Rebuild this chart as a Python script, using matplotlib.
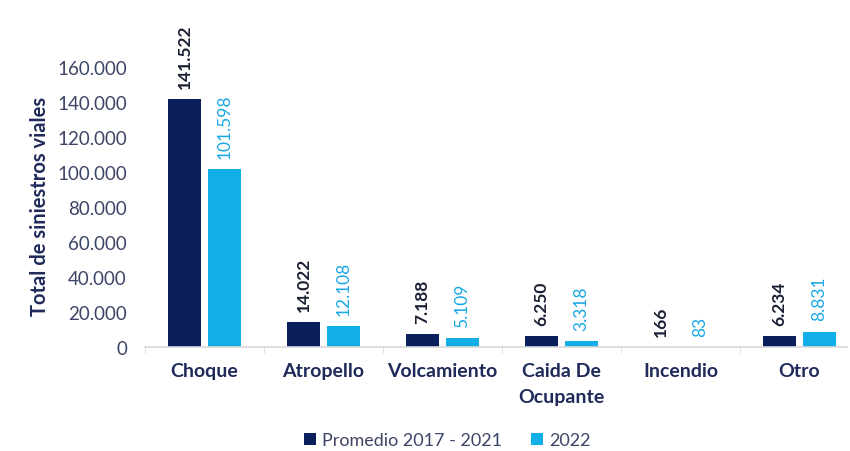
import numpy as np
import matplotlib.pyplot as plt
from matplotlib.ticker import FuncFormatter, FixedLocator

categories = ["Choque", "Atropello", "Volcamiento", "Caida De\nOcupante", "Incendio", "Otro"]
promedio = [141522, 14022, 7188, 6250, 166, 6234]
valores_2022 = [101598, 12108, 5109, 3318, 83, 8831]
series_names = ["Promedio 2017 - 2021", "2022"]

dark = "#0b1f5c"
light = "#12aee8"
navy_txt = "#1f2a5a"
tick_txt = "#3d4466"

plt.rcParams['font.family'] = ['Lato', 'DejaVu Sans']

def miles(v, pos=None):
    return f"{int(v):,}".replace(",", ".")

fig = plt.figure(figsize=(8.5, 4.52), dpi=100)
ax = fig.add_axes([0.1706, 0.2301, 0.826, 0.6195])

x = np.arange(len(categories))
w = 0.27
off = 0.168
b1 = ax.bar(x - off, promedio, w, color=dark, label=series_names[0])
b2 = ax.bar(x + off, valores_2022, w, color=light, label=series_names[1])

for xi, v in zip(x - off, promedio):
    ax.annotate(miles(v), (xi, v), xytext=(0, 8), textcoords="offset points",
                rotation=90, ha="center", va="bottom", fontsize=12.5,
                fontweight="bold", color="#1a1f33", annotation_clip=False)
for xi, v in zip(x + off, valores_2022):
    ax.annotate(miles(v), (xi, v), xytext=(0, 8), textcoords="offset points",
                rotation=90, ha="center", va="bottom", fontsize=12.5,
                color="#18a8e6", annotation_clip=False)

ax.set_ylim(0, 160000)
ax.set_xlim(-0.5, 5.4)
ax.yaxis.set_major_locator(FixedLocator(np.arange(0, 160001, 20000)))
ax.yaxis.set_major_formatter(FuncFormatter(miles))
ax.tick_params(axis="y", length=0, labelsize=13.5, labelcolor=tick_txt, pad=13)

ax.set_xticks(x)
ax.set_xticklabels(categories, fontsize=14, fontweight="bold", color=navy_txt,
                   linespacing=1.6)
ax.tick_params(axis="x", length=0, pad=11)
ax.set_xticks(np.arange(-0.5, 5.5, 1), minor=True)
ax.tick_params(axis="x", which="minor", length=4, color="#d9d9d9")

for s in ["top", "right", "left"]:
    ax.spines[s].set_visible(False)
ax.spines["bottom"].set_color("#d9d9d9")
ax.spines["bottom"].set_linewidth(1.2)

fig.text(0.047, 0.544, "Total de siniestros viales", rotation=90, ha="center",
         va="center", fontsize=14.5, fontweight="bold", color=navy_txt)

fig.legend(handles=[b1, b2], loc="center", bbox_to_anchor=(0.526, 0.024), ncol=2,
           frameon=False, fontsize=13, handlelength=0.7, handleheight=0.7,
           handletextpad=0.3, columnspacing=1.6, labelcolor=tick_txt)

fig.savefig("out.png", dpi=100, facecolor="white")
